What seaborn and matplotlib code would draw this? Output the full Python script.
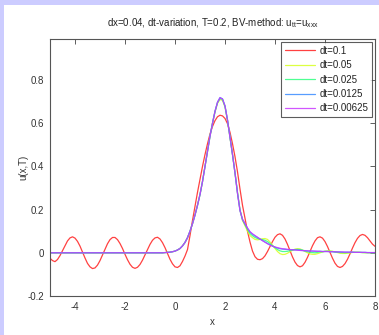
import numpy as np
import pandas as pd
import matplotlib
matplotlib.use("Agg")
import matplotlib.pyplot as plt
import seaborn as sns
from matplotlib.patches import Rectangle

# ---------------- data ----------------
x_vals = np.round(np.linspace(-5.0, 8.0, 131), 1)

dt_labels = ["dt=0.1", "dt=0.05", "dt=0.025", "dt=0.0125", "dt=0.00625"]

u_dt_0_1 = [
    -0.025, -0.036, -0.041, -0.031, -0.013, 0.010, 0.034, 0.055, 0.069, 0.074,
    0.068, 0.053, 0.031, 0.003, -0.024, -0.049, -0.065, -0.073, -0.070, -0.057,
    -0.036, -0.010, 0.017, 0.042, 0.061, 0.071, 0.071, 0.061, 0.043, 0.020,
    -0.007, -0.032, -0.053, -0.067, -0.072, -0.067, -0.054, -0.034, -0.010, 0.015,
    0.039, 0.058, 0.069, 0.072, 0.064, 0.047, 0.024, -0.003, -0.030, -0.051,
    -0.065, -0.068, -0.060, -0.040, -0.015, 0.015, 0.080, 0.150, 0.215, 0.280,
    0.340, 0.400, 0.455, 0.505, 0.550, 0.585, 0.612, 0.630, 0.637, 0.634,
    0.622, 0.598, 0.558, 0.505, 0.445, 0.375, 0.295, 0.220, 0.160, 0.100,
    0.050, 0.008, -0.018, -0.030, -0.032, -0.027, -0.014, 0.006, 0.029, 0.052,
    0.072, 0.084, 0.088, 0.081, 0.064, 0.039, 0.010, -0.019, -0.043, -0.059,
    -0.065, -0.060, -0.044, -0.021, 0.006, 0.033, 0.055, 0.070, 0.074, 0.068,
    0.052, 0.029, 0.002, -0.025, -0.048, -0.063, -0.068, -0.063, -0.050, -0.030,
    -0.005, 0.022, 0.047, 0.067, 0.080, 0.085, 0.081, 0.070, 0.055, 0.040, 0.030,
]

u_dt_0_05 = [
    0.0, 0.0, 0.0, 0.0, 0.0, 0.0, 0.0, 0.0, 0.0, 0.0,
    0.0, 0.0, 0.0, 0.0, 0.0, 0.0, 0.0, 0.0, 0.0, 0.0,
    0.0, 0.0, 0.0, 0.0, 0.0, 0.0, 0.0, 0.0, 0.0, 0.0,
    0.0, 0.0, 0.0, 0.0, 0.0, 0.0, 0.0, 0.0, 0.0, 0.0,
    0.0, 0.0, 0.0, 0.0, 0.0, 0.0, 0.001, 0.002, 0.003, 0.005,
    0.008, 0.013, 0.020, 0.032, 0.048, 0.070, 0.100, 0.135, 0.175, 0.220,
    0.270, 0.330, 0.400, 0.470, 0.540, 0.600, 0.652, 0.692, 0.710, 0.706,
    0.675, 0.612, 0.535, 0.455, 0.370, 0.280, 0.200, 0.150, 0.125, 0.100,
    0.080, 0.070, 0.062, 0.060, 0.062, 0.065, 0.066, 0.062, 0.050, 0.035,
    0.020, 0.006, -0.004, -0.008, -0.007, -0.002, 0.005, 0.012, 0.017, 0.019,
    0.018, 0.013, 0.006, 0.000, -0.005, -0.007, -0.007, -0.004, 0.000, 0.004,
    0.007, 0.009, 0.009, 0.007, 0.004, 0.001, -0.002, -0.003, -0.003, -0.002,
    0.000, 0.002, 0.003, 0.003, 0.002, 0.001, 0.000, 0.000, 0.000, 0.000, 0.000,
]

u_dt_0_025 = [
    0.0, 0.0, 0.0, 0.0, 0.0, 0.0, 0.0, 0.0, 0.0, 0.0,
    0.0, 0.0, 0.0, 0.0, 0.0, 0.0, 0.0, 0.0, 0.0, 0.0,
    0.0, 0.0, 0.0, 0.0, 0.0, 0.0, 0.0, 0.0, 0.0, 0.0,
    0.0, 0.0, 0.0, 0.0, 0.0, 0.0, 0.0, 0.0, 0.0, 0.0,
    0.0, 0.0, 0.0, 0.0, 0.0, 0.0, 0.001, 0.002, 0.003, 0.005,
    0.008, 0.013, 0.020, 0.032, 0.048, 0.070, 0.100, 0.135, 0.175, 0.220,
    0.270, 0.330, 0.400, 0.470, 0.540, 0.600, 0.654, 0.695, 0.714, 0.710,
    0.678, 0.614, 0.535, 0.455, 0.370, 0.278, 0.198, 0.152, 0.130, 0.108,
    0.089, 0.079, 0.071, 0.066, 0.063, 0.061, 0.058, 0.052, 0.043, 0.033,
    0.024, 0.015, 0.009, 0.006, 0.006, 0.007, 0.010, 0.013, 0.015, 0.016,
    0.015, 0.012, 0.008, 0.005, 0.002, 0.001, 0.000, 0.002, 0.004, 0.005,
    0.007, 0.007, 0.007, 0.006, 0.004, 0.003, 0.001, 0.001, 0.000, 0.001,
    0.001, 0.002, 0.002, 0.002, 0.002, 0.001, 0.001, 0.001, 0.001, 0.000, 0.000,
]

u_dt_0_0125 = [
    0.0, 0.0, 0.0, 0.0, 0.0, 0.0, 0.0, 0.0, 0.0, 0.0,
    0.0, 0.0, 0.0, 0.0, 0.0, 0.0, 0.0, 0.0, 0.0, 0.0,
    0.0, 0.0, 0.0, 0.0, 0.0, 0.0, 0.0, 0.0, 0.0, 0.0,
    0.0, 0.0, 0.0, 0.0, 0.0, 0.0, 0.0, 0.0, 0.0, 0.0,
    0.0, 0.0, 0.0, 0.0, 0.0, 0.0, 0.001, 0.002, 0.003, 0.005,
    0.008, 0.013, 0.020, 0.032, 0.048, 0.070, 0.100, 0.135, 0.175, 0.220,
    0.270, 0.330, 0.400, 0.470, 0.540, 0.600, 0.655, 0.697, 0.719, 0.713,
    0.680, 0.615, 0.535, 0.455, 0.370, 0.276, 0.196, 0.155, 0.134, 0.113,
    0.096, 0.086, 0.078, 0.071, 0.064, 0.057, 0.050, 0.043, 0.037, 0.031,
    0.026, 0.022, 0.019, 0.017, 0.016, 0.015, 0.015, 0.014, 0.014, 0.013,
    0.012, 0.011, 0.010, 0.009, 0.008, 0.008, 0.007, 0.007, 0.007, 0.006,
    0.006, 0.006, 0.005, 0.005, 0.004, 0.004, 0.004, 0.003, 0.003, 0.003,
    0.003, 0.003, 0.002, 0.002, 0.002, 0.002, 0.002, 0.001, 0.001, 0.001, 0.001,
]

u_dt_0_00625 = [
    0.0, 0.0, 0.0, 0.0, 0.0, 0.0, 0.0, 0.0, 0.0, 0.0,
    0.0, 0.0, 0.0, 0.0, 0.0, 0.0, 0.0, 0.0, 0.0, 0.0,
    0.0, 0.0, 0.0, 0.0, 0.0, 0.0, 0.0, 0.0, 0.0, 0.0,
    0.0, 0.0, 0.0, 0.0, 0.0, 0.0, 0.0, 0.0, 0.0, 0.0,
    0.0, 0.0, 0.0, 0.0, 0.0, 0.0, 0.001, 0.002, 0.003, 0.005,
    0.008, 0.013, 0.020, 0.032, 0.048, 0.070, 0.100, 0.135, 0.175, 0.220,
    0.270, 0.330, 0.400, 0.470, 0.540, 0.600, 0.655, 0.697, 0.718, 0.712,
    0.680, 0.615, 0.535, 0.455, 0.370, 0.275, 0.195, 0.155, 0.135, 0.115,
    0.098, 0.088, 0.080, 0.072, 0.064, 0.056, 0.049, 0.042, 0.036, 0.031,
    0.027, 0.024, 0.021, 0.019, 0.018, 0.016, 0.015, 0.014, 0.013, 0.012,
    0.011, 0.010, 0.010, 0.009, 0.009, 0.008, 0.008, 0.007, 0.007, 0.006,
    0.006, 0.006, 0.005, 0.005, 0.005, 0.004, 0.004, 0.004, 0.003, 0.003,
    0.003, 0.003, 0.002, 0.002, 0.002, 0.002, 0.002, 0.001, 0.001, 0.001, 0.001,
]

x_ticks = [-4, -2, 0, 2, 4, 6, 8]
x_tick_labels = ["-4", "-2", "0", "2", "4", "6", "8"]
y_ticks = [-0.2, 0, 0.2, 0.4, 0.6, 0.8]
y_tick_labels = ["-0.2", "0", "0.2", "0.4", "0.6", "0.8"]

series = [u_dt_0_1, u_dt_0_05, u_dt_0_025, u_dt_0_0125, u_dt_0_00625]
frames = []
for lab, vals in zip(dt_labels, series):
    frames.append(pd.DataFrame({"x": x_vals, "u": vals, "dt": lab}))
df = pd.concat(frames, ignore_index=True)

palette = {
    "dt=0.1": "#ff2020",
    "dt=0.05": "#d8ff20",
    "dt=0.025": "#30ff80",
    "dt=0.0125": "#3a8cff",
    "dt=0.00625": "#c838ff",
}

# ---------------- style ----------------
sns.set_style("white")
plt.rcParams["font.family"] = ["Liberation Sans", "DejaVu Sans"]
plt.rcParams["mathtext.fontset"] = "custom"
plt.rcParams["mathtext.rm"] = "Liberation Sans"
plt.rcParams["mathtext.it"] = "Liberation Sans"

fig = plt.figure(figsize=(3.79, 3.35), dpi=100)
fig.patch.set_facecolor("white")
# lavender frame strips (left and top)
fig.patches.append(Rectangle((0, 0), 4 / 379, 1, transform=fig.transFigure,
                             facecolor="#ccccff", edgecolor="none", zorder=0))
fig.patches.append(Rectangle((0, 1 - 5 / 335), 1, 5 / 335, transform=fig.transFigure,
                             facecolor="#ccccff", edgecolor="none", zorder=0))

ax = fig.add_axes([50 / 379, (335 - 296) / 335, 325 / 379, 257 / 335])

sns.lineplot(data=df, x="x", y="u", hue="dt", palette=palette,
             hue_order=dt_labels, ax=ax, linewidth=0.9, alpha=0.85,
             estimator=None, sort=False)

ax.set_xlim(-5, 8)
ax.set_ylim(-0.2, 0.99)
ax.set_xticks(x_ticks)
ax.set_xticklabels(x_tick_labels)
ax.set_yticks(y_ticks)
ax.set_yticklabels(y_tick_labels)

ax.tick_params(direction="in", length=3.5, width=0.6, colors="#444444",
               labelsize=7, top=True, right=True, pad=4, labelcolor="#333333")
for s in ax.spines.values():
    s.set_color("#555555")
    s.set_linewidth(0.8)

ax.set_xlabel("x", fontsize=7, color="#333333", labelpad=4)
ax.set_ylabel("u(x,T)", fontsize=7, color="#333333", labelpad=-0.5)
ax.set_title(r"dx=0.04, dt-variation, T=0.2, BV-method: u$_{\mathrm{tt}}$=u$_{\mathrm{xxx}}$",
             fontsize=7, color="#222222", pad=9)

leg = ax.legend(loc="upper right", fontsize=7, frameon=True, fancybox=False,
                borderaxespad=0.3, handlelength=3.1, handletextpad=0.4,
                labelspacing=0.45, borderpad=0.4, title=None)
leg.get_frame().set_edgecolor("#333333")
leg.get_frame().set_linewidth(0.8)
for t in leg.get_texts():
    t.set_color("#222222")

fig.savefig("out.png", dpi=100, facecolor=fig.get_facecolor())
